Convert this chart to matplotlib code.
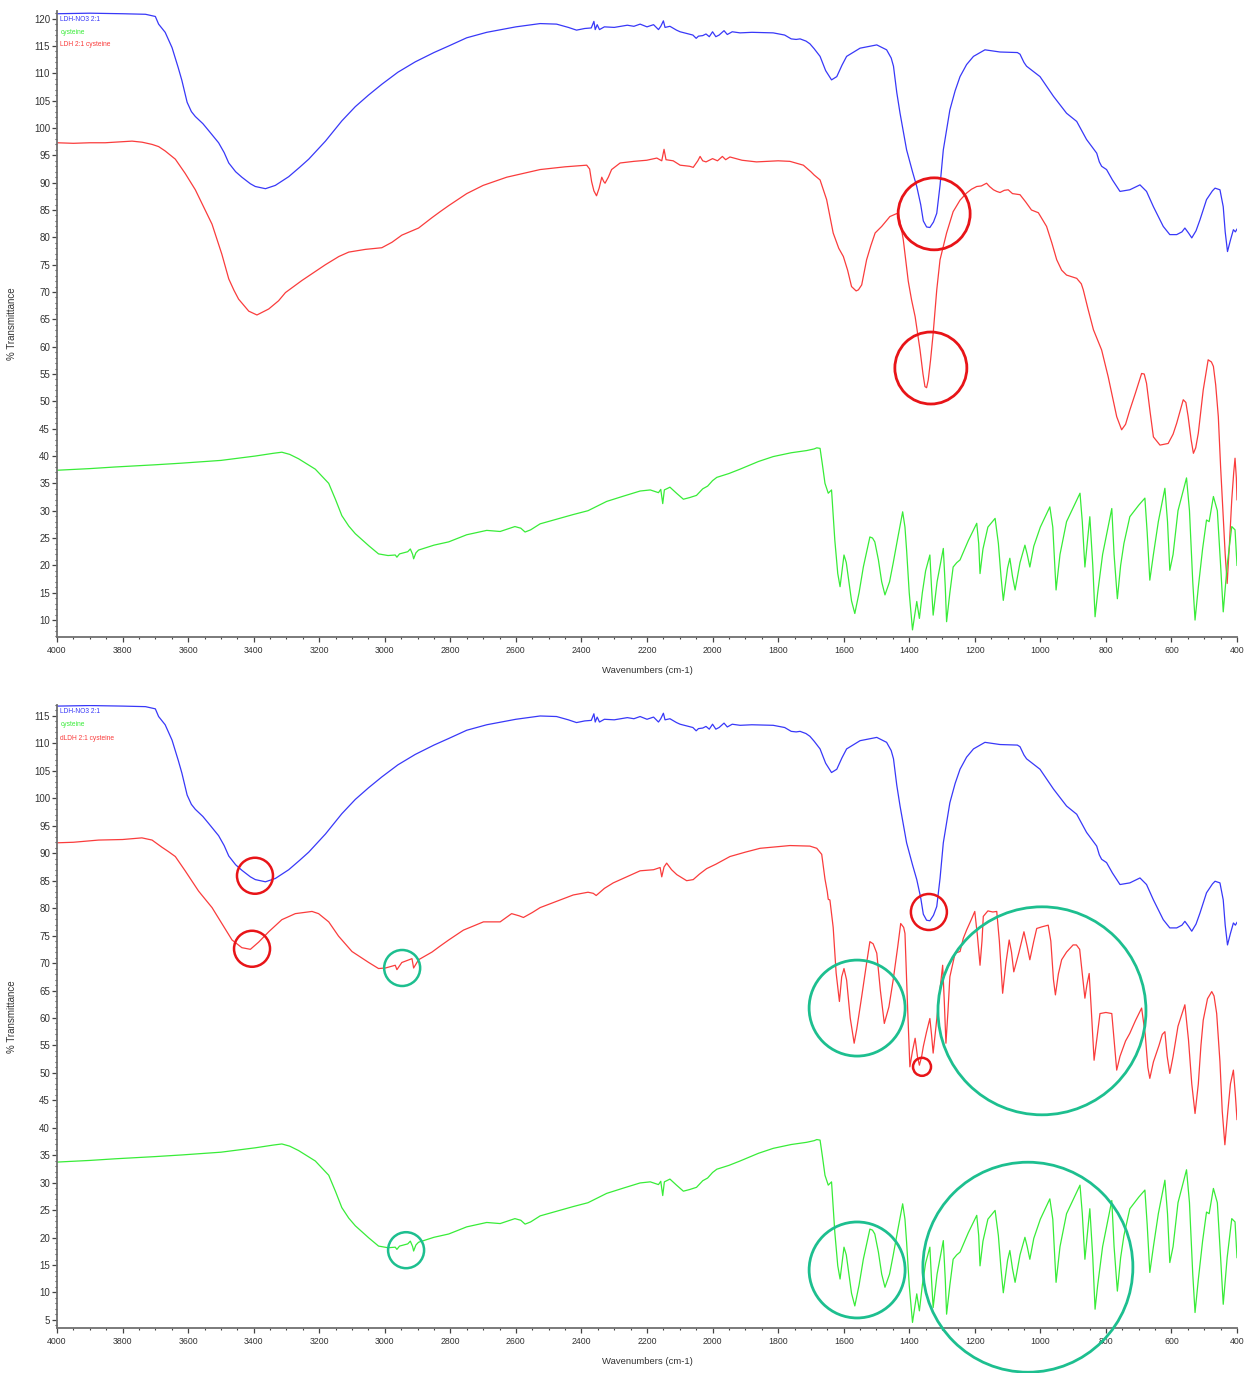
import numpy as np
import matplotlib
matplotlib.use("Agg")
import matplotlib.pyplot as plt
from matplotlib.ticker import MultipleLocator

plt.rcParams['font.family'] = ['Liberation Sans', 'DejaVu Sans']

# ---------------------------------------------------------------------------
# FTIR spectra, (wavenumber cm-1, % transmittance)
# ---------------------------------------------------------------------------
ldh_no3 = [
    (4000, 120.9), (3900, 121.0), (3800, 120.9), (3730, 120.8), (3700, 120.4),
    (3690, 119.0), (3670, 117.5), (3649, 114.7), (3630, 111.0), (3619, 108.7),
    (3603, 104.7), (3590, 103.0), (3578, 102.1), (3555, 100.8), (3537, 99.5),
    (3507, 97.3), (3490, 95.5), (3476, 93.6), (3455, 92.0), (3436, 91.0),
    (3410, 89.8), (3395, 89.3), (3364, 88.9), (3334, 89.5), (3293, 91.1),
    (3260, 92.8), (3232, 94.3), (3181, 97.6), (3131, 101.3), (3090, 103.9),
    (3050, 106.0), (3009, 108.0), (2960, 110.2), (2907, 112.1), (2850, 113.8),
    (2805, 115.0), (2750, 116.5), (2689, 117.5), (2600, 118.5), (2526, 119.1),
    (2476, 119.0), (2440, 118.4), (2415, 117.9), (2390, 118.2), (2370, 118.3),
    (2362, 119.5), (2358, 118.0), (2352, 118.9), (2345, 118.0), (2330, 118.5),
    (2300, 118.4), (2260, 118.8), (2240, 118.6), (2221, 119.0), (2200, 118.5),
    (2180, 118.9), (2165, 118.0), (2158, 118.6), (2150, 119.6), (2145, 118.4),
    (2130, 118.6), (2110, 117.9), (2099, 117.6), (2080, 117.3), (2060, 117.0),
    (2050, 116.4), (2043, 116.8), (2030, 116.9), (2020, 117.2), (2010, 116.7),
    (2000, 117.6), (1990, 116.7), (1980, 117.0), (1965, 117.8), (1955, 117.1),
    (1940, 117.6), (1916, 117.4), (1880, 117.5), (1815, 117.4), (1780, 117.0),
    (1760, 116.3), (1745, 116.2), (1733, 116.3), (1715, 115.9), (1703, 115.4),
    (1690, 114.5), (1672, 113.1), (1655, 110.5), (1637, 108.8), (1621, 109.4),
    (1605, 111.5), (1591, 113.1), (1550, 114.6), (1499, 115.2), (1469, 114.3),
    (1455, 112.8), (1448, 111.3), (1438, 106.5), (1428, 102.7), (1408, 96.0),
    (1390, 92.0), (1377, 89.3), (1365, 86.0), (1357, 83.0), (1347, 81.9),
    (1337, 81.8), (1326, 82.8), (1316, 84.4), (1306, 89.5), (1296, 96.0),
    (1276, 103.3), (1260, 106.8), (1245, 109.4), (1225, 111.6), (1204, 113.1),
    (1169, 114.3), (1123, 113.9), (1070, 113.8), (1062, 113.5), (1050, 112.0),
    (1042, 111.3), (1001, 109.4), (960, 105.8), (920, 102.7), (889, 101.2),
    (859, 97.9), (828, 95.4), (820, 93.8), (813, 93.0), (798, 92.4),
    (780, 90.5), (757, 88.4), (727, 88.7), (696, 89.6), (676, 88.4),
    (655, 85.6), (625, 82.0), (605, 80.5), (584, 80.5), (568, 81.0),
    (559, 81.7), (548, 80.8), (538, 79.9), (525, 81.2), (513, 83.2),
    (493, 86.9), (475, 88.5), (467, 89.0), (452, 88.7), (442, 85.6),
    (436, 81.0), (429, 77.4), (420, 79.5), (411, 81.4), (405, 81.0),
    (400, 81.5),
]

cysteine = [
    (4000, 37.4), (3900, 37.7), (3822, 38.0), (3700, 38.4), (3619, 38.7),
    (3500, 39.2), (3395, 40.0), (3340, 40.5), (3314, 40.7), (3290, 40.3),
    (3263, 39.5), (3212, 37.6), (3171, 35.0), (3150, 32.0), (3131, 29.1),
    (3110, 27.2), (3090, 25.8), (3049, 23.6), (3019, 22.1), (2990, 21.8),
    (2968, 21.9), (2963, 21.5), (2955, 22.1), (2930, 22.5), (2922, 23.0),
    (2915, 22.0), (2912, 21.2), (2905, 22.3), (2897, 22.8), (2850, 23.7),
    (2805, 24.3), (2750, 25.6), (2689, 26.4), (2648, 26.2), (2603, 27.1),
    (2585, 26.8), (2572, 26.1), (2555, 26.5), (2526, 27.6), (2425, 29.3),
    (2380, 30.0), (2323, 31.7), (2270, 32.7), (2221, 33.6), (2190, 33.8),
    (2165, 33.3), (2158, 33.9), (2152, 31.3), (2147, 33.8), (2130, 34.3),
    (2110, 33.2), (2089, 32.1), (2070, 32.4), (2049, 32.8), (2030, 34.0),
    (2015, 34.5), (2000, 35.5), (1987, 36.1), (1950, 36.8), (1916, 37.6),
    (1860, 39.0), (1815, 39.9), (1760, 40.6), (1713, 41.0), (1690, 41.3),
    (1682, 41.5), (1672, 41.4), (1665, 38.5), (1657, 35.0), (1647, 33.2),
    (1637, 33.8), (1627, 24.6), (1618, 18.5), (1611, 16.1), (1605, 19.0),
    (1599, 21.9), (1592, 20.5), (1586, 17.9), (1576, 13.5), (1566, 11.2),
    (1553, 15.0), (1540, 19.7), (1520, 25.2), (1512, 25.0), (1505, 24.3),
    (1494, 21.0), (1484, 17.0), (1474, 14.6), (1460, 17.0), (1449, 20.4),
    (1435, 25.0), (1420, 29.8), (1413, 27.0), (1408, 22.8), (1400, 15.0),
    (1390, 8.2), (1383, 11.0), (1377, 13.4), (1369, 10.3), (1360, 15.0),
    (1350, 19.0), (1337, 21.9), (1332, 16.0), (1327, 10.9), (1315, 17.0),
    (1296, 23.1), (1290, 16.0), (1286, 9.7), (1276, 15.0), (1266, 19.7),
    (1255, 20.5), (1245, 21.0), (1220, 24.5), (1194, 27.7), (1188, 24.0),
    (1184, 18.5), (1175, 23.0), (1160, 27.0), (1138, 28.6), (1128, 24.0),
    (1120, 18.0), (1113, 13.6), (1100, 19.5), (1093, 21.3), (1085, 18.0),
    (1077, 15.5), (1062, 20.5), (1047, 23.7), (1040, 22.0), (1032, 19.7),
    (1020, 23.5), (1000, 27.0), (971, 30.7), (962, 27.0), (952, 15.5),
    (940, 22.0), (920, 28.0), (879, 33.2), (872, 28.0), (864, 19.7),
    (857, 24.0), (849, 28.9), (840, 20.0), (833, 10.6), (825, 15.0),
    (810, 22.0), (782, 30.4), (775, 22.0), (765, 13.9), (755, 20.0),
    (745, 24.0), (727, 28.9), (700, 31.0), (681, 32.3), (674, 26.0),
    (666, 17.3), (655, 22.0), (640, 28.0), (620, 34.1), (612, 28.0),
    (605, 19.1), (595, 22.0), (580, 30.0), (554, 36.0), (545, 30.0),
    (535, 17.0), (528, 10.0), (518, 16.0), (505, 23.0), (493, 28.3),
    (485, 28.0), (472, 32.6), (460, 30.0), (450, 20.0), (442, 11.5),
    (430, 20.0), (416, 27.1), (406, 26.5), (400, 20.0),
]

ldh_cysteine = [
    (4000, 97.3), (3950, 97.2), (3900, 97.3), (3853, 97.3), (3800, 97.5),
    (3771, 97.6), (3740, 97.4), (3710, 97.0), (3690, 96.6), (3670, 95.8),
    (3639, 94.3), (3609, 91.7), (3578, 88.7), (3548, 85.0), (3527, 82.4),
    (3497, 76.9), (3476, 72.4), (3460, 70.3), (3446, 68.7), (3415, 66.5),
    (3390, 65.8), (3354, 66.9), (3324, 68.4), (3303, 69.9), (3253, 72.1),
    (3181, 75.0), (3140, 76.5), (3110, 77.3), (3059, 77.8), (3009, 78.1),
    (2978, 79.1), (2948, 80.4), (2897, 81.7), (2856, 83.6), (2831, 84.7),
    (2805, 85.8), (2750, 88.0), (2700, 89.5), (2628, 91.0), (2526, 92.4),
    (2450, 92.9), (2384, 93.2), (2375, 92.5), (2369, 90.2), (2362, 88.5),
    (2354, 87.6), (2346, 89.0), (2338, 91.0), (2332, 90.2), (2328, 89.9),
    (2318, 91.0), (2308, 92.4), (2282, 93.6), (2240, 93.9), (2201, 94.1),
    (2170, 94.5), (2155, 94.0), (2148, 96.1), (2142, 94.2), (2120, 94.0),
    (2099, 93.2), (2070, 93.0), (2059, 92.8), (2045, 94.0), (2038, 94.8),
    (2030, 94.0), (2020, 93.8), (2000, 94.4), (1985, 94.0), (1970, 94.8),
    (1960, 94.2), (1947, 94.7), (1910, 94.1), (1866, 93.8), (1800, 94.0),
    (1764, 93.9), (1723, 93.2), (1700, 92.0), (1690, 91.4), (1672, 90.5),
    (1652, 86.9), (1632, 80.8), (1615, 78.0), (1601, 76.5), (1588, 74.0),
    (1576, 71.0), (1562, 70.2), (1555, 70.4), (1545, 71.3), (1530, 75.9),
    (1517, 78.5), (1504, 80.8), (1484, 82.0), (1459, 83.8), (1440, 84.3),
    (1433, 84.4), (1425, 82.0), (1418, 79.5), (1408, 74.5), (1403, 72.0),
    (1393, 68.6), (1382, 65.5), (1367, 59.4), (1358, 55.0), (1352, 52.7),
    (1347, 52.5), (1342, 53.9), (1335, 57.5), (1327, 62.4), (1316, 70.4),
    (1306, 75.9), (1286, 80.8), (1266, 84.7), (1245, 86.8), (1225, 88.1),
    (1210, 88.8), (1194, 89.3), (1180, 89.4), (1164, 89.9), (1155, 89.3),
    (1143, 88.7), (1133, 88.4), (1123, 88.2), (1110, 88.6), (1098, 88.7),
    (1085, 88.0), (1062, 87.8), (1045, 86.5), (1027, 85.0), (1006, 84.5),
    (981, 82.0), (965, 79.0), (950, 75.9), (935, 74.0), (920, 73.1),
    (889, 72.5), (875, 71.5), (869, 70.4), (855, 67.0), (838, 63.1),
    (813, 59.4), (793, 54.5), (767, 47.2), (752, 44.8), (740, 45.8),
    (727, 48.4), (710, 51.5), (691, 55.1), (683, 55.0), (676, 53.3),
    (665, 48.0), (655, 43.5), (635, 42.0), (610, 42.3), (595, 44.0),
    (584, 46.0), (564, 50.3), (556, 49.8), (549, 47.2), (540, 43.0),
    (533, 40.5), (526, 41.5), (518, 44.2), (503, 52.1), (488, 57.6),
    (478, 57.2), (472, 56.4), (465, 53.0), (457, 47.2), (450, 38.0),
    (442, 28.9), (436, 22.0), (430, 16.7), (423, 24.0), (416, 32.0),
    (410, 37.0), (406, 39.6), (402, 36.0), (400, 32.0),
]

dldh_cysteine = [
    (4000, 91.9), (3950, 92.0), (3873, 92.4), (3800, 92.5), (3741, 92.8),
    (3710, 92.4), (3680, 91.1), (3660, 90.3), (3639, 89.4), (3609, 86.8),
    (3568, 83.1), (3527, 80.1), (3497, 77.2), (3466, 74.2), (3436, 72.8),
    (3410, 72.5), (3385, 73.8), (3354, 75.7), (3314, 77.9), (3273, 79.0),
    (3222, 79.4), (3202, 79.0), (3171, 77.5), (3141, 74.9), (3100, 72.1),
    (3049, 70.1), (3019, 69.0), (2998, 69.1), (2968, 69.6), (2963, 68.8),
    (2948, 70.1), (2917, 70.8), (2912, 69.1), (2897, 70.6), (2856, 72.0),
    (2831, 73.1), (2805, 74.2), (2760, 76.0), (2699, 77.5), (2648, 77.5),
    (2613, 79.0), (2590, 78.6), (2577, 78.3), (2550, 79.2), (2526, 80.1),
    (2425, 82.4), (2380, 82.9), (2364, 82.7), (2355, 82.3), (2330, 83.6),
    (2303, 84.6), (2221, 86.8), (2180, 87.0), (2160, 87.4), (2155, 85.7),
    (2148, 87.5), (2140, 88.2), (2125, 87.0), (2109, 86.1), (2079, 85.0),
    (2059, 85.2), (2040, 86.2), (2018, 87.2), (1990, 88.0), (1947, 89.4),
    (1900, 90.2), (1855, 90.9), (1764, 91.4), (1703, 91.3), (1682, 90.9),
    (1667, 89.8), (1657, 85.3), (1650, 83.0), (1647, 81.6), (1642, 81.5),
    (1632, 76.5), (1623, 68.2), (1613, 63.0), (1606, 67.5), (1599, 69.0),
    (1591, 66.9), (1580, 60.0), (1568, 55.4), (1560, 58.0), (1545, 63.9),
    (1530, 70.0), (1520, 73.9), (1510, 73.5), (1499, 71.8), (1488, 65.0),
    (1476, 59.0), (1462, 62.0), (1449, 66.9), (1435, 73.0), (1426, 77.2),
    (1417, 76.5), (1413, 75.4), (1405, 62.0), (1398, 51.1), (1390, 54.0),
    (1382, 56.3), (1375, 53.0), (1369, 51.4), (1362, 53.0), (1357, 54.8),
    (1347, 57.5), (1337, 59.9), (1332, 57.0), (1327, 53.6), (1312, 62.0),
    (1298, 69.6), (1293, 63.0), (1288, 55.4), (1282, 61.0), (1276, 67.5),
    (1260, 71.8), (1245, 72.1), (1235, 74.5), (1225, 76.0), (1210, 78.0),
    (1200, 79.4), (1192, 75.0), (1184, 69.6), (1178, 74.0), (1174, 78.5),
    (1160, 79.5), (1145, 79.3), (1133, 79.4), (1125, 74.0), (1115, 64.5),
    (1105, 70.0), (1095, 74.2), (1088, 72.0), (1081, 68.4), (1065, 72.0),
    (1050, 75.7), (1040, 73.0), (1032, 70.6), (1020, 74.0), (1011, 76.3),
    (995, 76.6), (976, 76.9), (968, 74.0), (960, 67.0), (954, 64.2),
    (945, 68.0), (935, 70.6), (920, 72.0), (900, 73.3), (890, 73.3),
    (880, 72.5), (872, 68.0), (864, 63.6), (858, 66.0), (851, 68.1),
    (845, 62.0), (836, 52.3), (828, 56.0), (818, 60.8), (800, 61.0),
    (782, 60.8), (775, 56.0), (767, 50.5), (757, 53.0), (740, 55.8),
    (727, 57.2), (710, 59.5), (691, 61.8), (680, 57.0), (672, 51.0),
    (666, 49.0), (655, 52.0), (638, 55.0), (628, 57.0), (620, 57.5),
    (613, 53.0), (605, 49.9), (595, 53.0), (580, 58.5), (559, 62.4),
    (548, 56.0), (538, 48.0), (528, 42.6), (518, 48.0), (510, 55.0),
    (503, 59.6), (490, 63.5), (477, 64.8), (470, 64.0), (462, 60.8),
    (452, 52.0), (445, 43.0), (437, 36.9), (428, 43.0), (420, 48.0),
    (411, 50.5), (405, 46.0), (400, 41.5),
]

# display offsets of the shared spectra in the lower panel
lower_shift_ldh_no3 = -4.1
lower_shift_cysteine = -3.65

# highlighted bands: (wavenumber, %T, radius px, colour)
top_marks = [
    (1324, 84.3, 36, 'red'),
    (1334, 56.1, 36, 'red'),
]
bottom_marks = [
    (3396, 85.9, 18, 'red'),
    (3405, 72.6, 18, 'red'),
    (2947, 69.1, 18, 'teal'),
    (2935, 17.7, 18, 'teal'),
    (1340, 79.3, 18, 'red'),
    (1559, 61.8, 48, 'teal'),
    (1361, 51.1, 9, 'red'),
    (995, 61.3, 104, 'teal'),
    (1559, 14.1, 48, 'teal'),
    (1038, 14.6, 105, 'teal'),
]

legend_top = ['LDH-NO3 2:1', 'cysteine', 'LDH 2:1 cysteine']
legend_bottom = ['LDH-NO3 2:1', 'cysteine', 'dLDH 2:1 cysteine']

BLUE = '#3838f8'
GREEN = '#38ec38'
RED = '#fa3c3c'
MARK = {'red': '#e81418', 'teal': '#1dbf8f'}
AXIS = '#707070'
TEXT = '#333333'

W, H = 1248, 1373
DPI = 100


def xy(pairs, shift=0.0):
    a = np.asarray(pairs, dtype=float)
    return a[:, 0], a[:, 1] + shift


def style_axes(ax, ylim, ymajor):
    ax.set_xlim(4000, 400)
    ax.set_ylim(*ylim)
    for side in ('top', 'right'):
        ax.spines[side].set_visible(False)
    for side in ('left', 'bottom'):
        ax.spines[side].set_color(AXIS)
        ax.spines[side].set_linewidth(1.3)
    ax.xaxis.set_major_locator(MultipleLocator(200))
    ax.xaxis.set_minor_locator(MultipleLocator(50))
    ax.yaxis.set_major_locator(MultipleLocator(ymajor))
    ax.yaxis.set_minor_locator(MultipleLocator(1))
    ax.tick_params(axis='both', which='major', direction='out', length=3.5,
                   width=0.9, color='#444444', labelcolor=TEXT)
    ax.tick_params(axis='both', which='minor', direction='out', length=1.6,
                   width=0.8, color='#444444')
    ax.tick_params(axis='x', which='major', labelsize=6.3, pad=3)
    ax.tick_params(axis='y', which='major', labelsize=7, pad=1.5)
    ax.set_xlabel('Wavenumbers (cm-1)', fontsize=6.8, color=TEXT)
    ax.set_ylabel('% Transmittance', fontsize=7, color=TEXT)
    ax.yaxis.set_label_coords(-0.0335, 0.5)
    ax.xaxis.set_label_coords(0.5, -0.046)


def draw_marks(ax, marks):
    for wn, t, r, c in marks:
        size_pt = 2 * r * 72.0 / DPI
        ax.scatter([wn], [t], s=size_pt ** 2, facecolors='none',
                   edgecolors=MARK[c], linewidths=2.0 if r > 30 else 1.8,
                   zorder=5, clip_on=False)


def draw_legend(ax, labels, ys):
    for lab, y, col in zip(labels, ys, (BLUE, GREEN, RED)):
        ax.text(0.0028, y, lab, transform=ax.transAxes, fontsize=4.8,
                color=col, va='center', ha='left')


fig = plt.figure(figsize=(W / DPI, H / DPI), dpi=DPI)

# upper panel
ax1 = fig.add_axes([57 / W, 1 - 637 / H, 1180 / W, 626 / H])
for pairs, col in ((ldh_no3, BLUE), (ldh_cysteine, RED), (cysteine, GREEN)):
    x, y = xy(pairs)
    ax1.plot(x, y, color=col, lw=0.9)
style_axes(ax1, (6.9, 121.4), 5)
draw_marks(ax1, top_marks)
draw_legend(ax1, legend_top, (0.987, 0.966, 0.946))

# lower panel
ax2 = fig.add_axes([57 / W, 1 - 1328 / H, 1180 / W, 623 / H])
x, y = xy(ldh_no3, lower_shift_ldh_no3)
ax2.plot(x, y, color=BLUE, lw=0.9)
x, y = xy(dldh_cysteine)
ax2.plot(x, y, color=RED, lw=0.9)
x, y = xy(cysteine, lower_shift_cysteine)
ax2.plot(x, y, color=GREEN, lw=0.9)
style_axes(ax2, (3.53, 117.0), 5)
draw_marks(ax2, bottom_marks)
draw_legend(ax2, legend_bottom, (0.989, 0.968, 0.947))

fig.savefig('out.png', dpi=DPI, facecolor='white')
